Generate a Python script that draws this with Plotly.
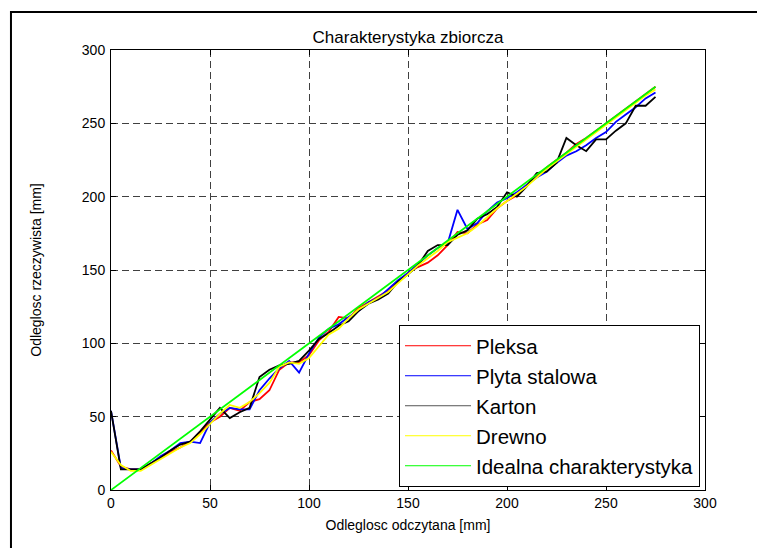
import plotly.graph_objects as go

x_vals = list(range(0, 280, 5))

pleksa = [27, 16, 14, 14, 18, 22, 26, 29, 33, 39, 46, 50, 56, 54, 60, 62, 68, 82, 87, 87,
          92, 102, 108, 118, 117, 124, 128, 132, 136, 142, 148, 152, 155, 160, 167, 176, 175, 181, 184, 192,
          197, 201, 208, 214, 220, 225, 230, 236, 240, 245, 250, 255, 260, 265, 270, 275]

plyta = [54, 15, 14, 14, 18, 23, 27, 32, 33, 32, 46, 52, 56, 55, 55, 68, 76, 83, 88, 80,
         93, 104, 110, 113, 118, 122, 128, 131, 137, 143, 148, 154, 160, 165, 168, 191, 178, 182, 190, 196,
         199, 203, 208, 213, 217, 223, 228, 231, 235, 240, 244, 251, 256, 261, 267, 271]

karton = [54, 14, 14, 14, 18, 22, 27, 31, 33, 40, 48, 56, 49, 53, 56, 77, 82, 85, 86, 88,
          95, 103, 107, 112, 115, 122, 127, 130, 134, 142, 147, 153, 163, 167, 167, 174, 177, 185, 188, 193,
          203, 200, 207, 216, 217, 223, 240, 235, 231, 239, 239, 245, 250, 262, 262, 268]

drewno = [26, 17, 13, 13, 17, 21, 25, 29, 32, 38, 45, 52, 58, 56, 60, 66, 73, 84, 87, 86,
          90, 98, 106, 110, 117, 123, 127, 131, 135, 141, 147, 153, 158, 163, 169, 172, 175, 180, 186, 192,
          197, 202, 207, 213, 219, 224, 229, 234, 239, 244, 249, 254, 259, 264, 269, 273]

ideal_x = [0, 275]
ideal_y = [0, 275]

names = ["Pleksa", "Plyta stalowa", "Karton", "Drewno", "Idealna charakterystyka"]
colors = ["#ff0000", "#0000ff", "#000000", "#ffff00", "#00ff00"]
legend_colors = ["#ff0000", "#0000ff", "#555555", "#ffff00", "#00ff00"]

fig = go.Figure()
series = [(x_vals, pleksa), (x_vals, plyta), (x_vals, karton), (x_vals, drewno), (ideal_x, ideal_y)]
for (xs, ys), n, c in zip(series, names, colors):
    fig.add_trace(go.Scatter(x=xs, y=ys, mode="lines", name=n, showlegend=False,
                             line=dict(color=c, width=1.8)))
# legend entries (thin sample lines, as in the reference)
for i, (n, c) in enumerate(zip(names, legend_colors)):
    fig.add_trace(go.Scatter(x=[None], y=[None], mode="lines", name=n, legendgroup=str(i),
                             line=dict(color=c, width=1)))

font_family = "Liberation Sans, Arial, sans-serif"
axis_common = dict(
    showline=True, linecolor="black", linewidth=1, mirror="ticks",
    ticks="inside", ticklen=5, tickcolor="black",
    showgrid=True, gridcolor="#404040", gridwidth=1, griddash="7px,4px",
    zeroline=False, tickfont=dict(size=14, color="black", family=font_family),
)

fig.update_layout(
    width=765, height=548,
    margin=dict(l=103, r=68, t=42, b=66),
    paper_bgcolor="white", plot_bgcolor="white",
    font=dict(family=font_family, color="black"),
    title=dict(text="Charakterystyka zbiorcza", x=0.5, xref="paper", xanchor="center",
               y=1 - 29 / 548, yref="container", yanchor="middle",
               font=dict(size=17, color="black", family=font_family)),
    xaxis=dict(range=[0, 300], tickvals=[0, 50, 100, 150, 200, 250, 300],
               title=dict(text="Odleglosc odczytana [mm]", standoff=10,
                          font=dict(size=14, family=font_family)),
               **axis_common),
    yaxis=dict(range=[0, 300], tickvals=[0, 50, 100, 150, 200, 250, 300],
               ticklabelstandoff=2,
               title=dict(text="Odleglosc rzeczywista [mm]", standoff=36,
                          font=dict(size=14, family=font_family)),
               **axis_common),
    legend=dict(x=0.9916, y=0.007, xanchor="right", yanchor="bottom",
                bgcolor="white", bordercolor="black", borderwidth=1,
                font=dict(size=20.5, family=font_family, color="black"),
                itemwidth=66, tracegroupgap=0.35),
    shapes=[dict(type="rect", xref="paper", yref="paper",
                 x0=-0.1684, x1=1.2, y0=-0.2, y1=1.0864,
                 line=dict(color="black", width=2), fillcolor="rgba(0,0,0,0)", layer="above")],
)

fig.write_html("out.html")
